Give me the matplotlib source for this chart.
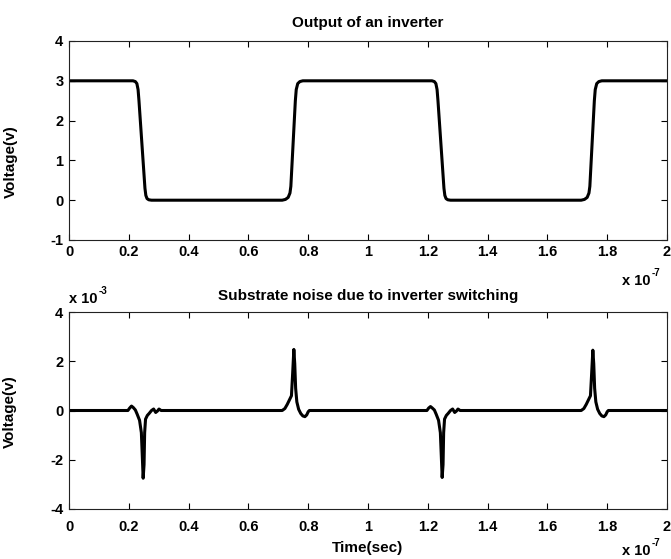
import numpy as np
import matplotlib
matplotlib.use("Agg")
import matplotlib.pyplot as plt

plt.rcParams['font.family'] = ['Liberation Sans', 'DejaVu Sans']
plt.rcParams['font.weight'] = 'bold'

TIME_SCALE = 1e-7   # x axis multiplier
NOISE_SCALE = 1e-3  # noise multiplier

# inverter output (time in units of 1e-7 s, volts)
t_out = [0, 0.214, 0.222, 0.227, 0.231, 0.234, 0.254, 0.257, 0.261, 0.267, 0.276,
         0.713, 0.724, 0.733, 0.739, 0.742, 0.757, 0.760, 0.765, 0.772, 0.782,
         1.214, 1.222, 1.227, 1.231, 1.234, 1.254, 1.257, 1.261, 1.267, 1.276,
         1.713, 1.724, 1.733, 1.739, 1.742, 1.757, 1.760, 1.765, 1.772, 1.782, 2.0]
v_out = [3, 3, 2.98, 2.93, 2.78, 2.5, 0.3, 0.12, 0.04, 0.01, 0,
         0, 0.02, 0.07, 0.18, 0.35, 2.5, 2.78, 2.93, 2.98, 3,
         3, 2.98, 2.93, 2.78, 2.5, 0.3, 0.12, 0.04, 0.01, 0,
         0, 0.02, 0.07, 0.18, 0.35, 2.5, 2.78, 2.93, 2.98, 3, 3]

# substrate noise (time in units of 1e-7 s, volts in units of 1e-3)
t_noise = [0, 0.197, 0.203, 0.209, 0.215, 0.222, 0.228, 0.236, 0.242, 0.245, 0.248,
           0.251, 0.253, 0.256, 0.262, 0.268, 0.276, 0.283, 0.290, 0.296, 0.301, 0.308,
           0.713, 0.722, 0.730, 0.738, 0.744, 0.748, 0.752, 0.755, 0.758, 0.762,
           0.768, 0.775, 0.782, 0.789, 0.795, 0.800, 0.804,
           1.197, 1.203, 1.209, 1.215, 1.222, 1.228, 1.236, 1.242, 1.245, 1.248,
           1.251, 1.253, 1.256, 1.262, 1.268, 1.276, 1.283, 1.290, 1.296, 1.301, 1.308,
           1.713, 1.722, 1.730, 1.738, 1.744, 1.748, 1.752, 1.755, 1.758, 1.762,
           1.768, 1.775, 1.782, 1.789, 1.795, 1.800, 1.804, 2.0]
v_noise = [0, 0, 0.1, 0.18, 0.12, 0.02, -0.15, -0.4, -0.9, -1.8, -2.75,
           -2.2, -0.9, -0.35, -0.2, -0.12, 0.0, 0.06, -0.08, -0.02, 0.06, 0,
           0, 0.08, 0.25, 0.45, 0.6, 1.5, 2.48, 1.9, 0.9, 0.35,
           0.05, -0.12, -0.22, -0.25, -0.18, -0.05, 0,
           0, 0.1, 0.16, 0.1, 0.02, -0.15, -0.4, -0.9, -1.8, -2.72,
           -2.2, -0.9, -0.35, -0.2, -0.12, 0.0, 0.06, -0.08, -0.02, 0.06, 0,
           0, 0.08, 0.25, 0.45, 0.6, 1.5, 2.45, 1.9, 0.9, 0.35,
           0.05, -0.12, -0.22, -0.25, -0.18, -0.05, 0, 0]

x_ticks = [0, 0.2, 0.4, 0.6, 0.8, 1, 1.2, 1.4, 1.6, 1.8, 2]
y_ticks_out = [-1, 0, 1, 2, 3, 4]
y_ticks_noise = [-4, -2, 0, 2, 4]

W, H = 671, 559
fig = plt.figure(figsize=(W / 100, H / 100), dpi=100)

def px_axes(left, top, right, bottom):
    return fig.add_axes([left / W, 1 - bottom / H, (right - left) / W, (bottom - top) / H])

def exponent_label(ax, x, y, exp):
    # matlab style "x 10^exp" multiplier, plain hyphen in the exponent
    base = ax.text(x, y, "x 10", transform=ax.transAxes, ha='left', va='baseline',
                   fontsize=10.5, fontweight='bold')
    ax.annotate(exp, xy=(1, 1), xycoords=base, xytext=(0.5, -3),
                textcoords='offset points', ha='left', va='bottom',
                fontsize=7, fontweight='bold')

ax1 = px_axes(69, 41, 667, 240)
ax2 = px_axes(69, 312, 667, 509)

ax1.plot(np.array(t_out) * TIME_SCALE, v_out, color='black', lw=2.2)
ax2.plot(np.array(t_noise) * TIME_SCALE, np.array(v_noise) * NOISE_SCALE, color='black', lw=2.2)

for ax, yt, yscale, xpad in [(ax1, y_ticks_out, 1, 3.5), (ax2, y_ticks_noise, NOISE_SCALE, 8)]:
    ax.set_xlim(0, 2 * TIME_SCALE)
    ax.set_xticks(np.array(x_ticks) * TIME_SCALE)
    ax.set_xticklabels([f"{v:g}" for v in x_ticks])
    ax.set_ylim(yt[0] * yscale, yt[-1] * yscale)
    ax.set_yticks(np.array(yt) * yscale)
    ax.set_yticklabels([f"{v:g}" for v in yt])
    ax.tick_params(direction='in', top=True, right=True, length=4, width=0.8,
                   labelsize=10.5)
    ax.tick_params(axis='x', pad=xpad)
    ax.tick_params(axis='y', pad=4)
    for s in ax.spines.values():
        s.set_linewidth(0.8)
        s.set_color('#222222')

ax1.set_title("Output of an inverter", fontsize=11, fontweight='bold', pad=10)
ax2.set_title("Substrate noise due to inverter switching", fontsize=11, fontweight='bold', pad=8.5)

ax1.set_ylabel("Voltage(v)", fontsize=11, fontweight='bold')
ax1.yaxis.set_label_coords(-0.085, 0.392)
ax2.set_ylabel("Voltage(v)", fontsize=11, fontweight='bold')
ax2.yaxis.set_label_coords(-0.087, 0.492)
ax2.set_xlabel("Time(sec)", fontsize=11, fontweight='bold')
ax2.xaxis.set_label_coords(0.5, -0.162)

exponent_label(ax1, 0.925, -0.226, "-7")
exponent_label(ax2, 0.925, -0.234, "-7")
exponent_label(ax2, 0.0, 1.046, "-3")

fig.savefig("out.png", dpi=100)
